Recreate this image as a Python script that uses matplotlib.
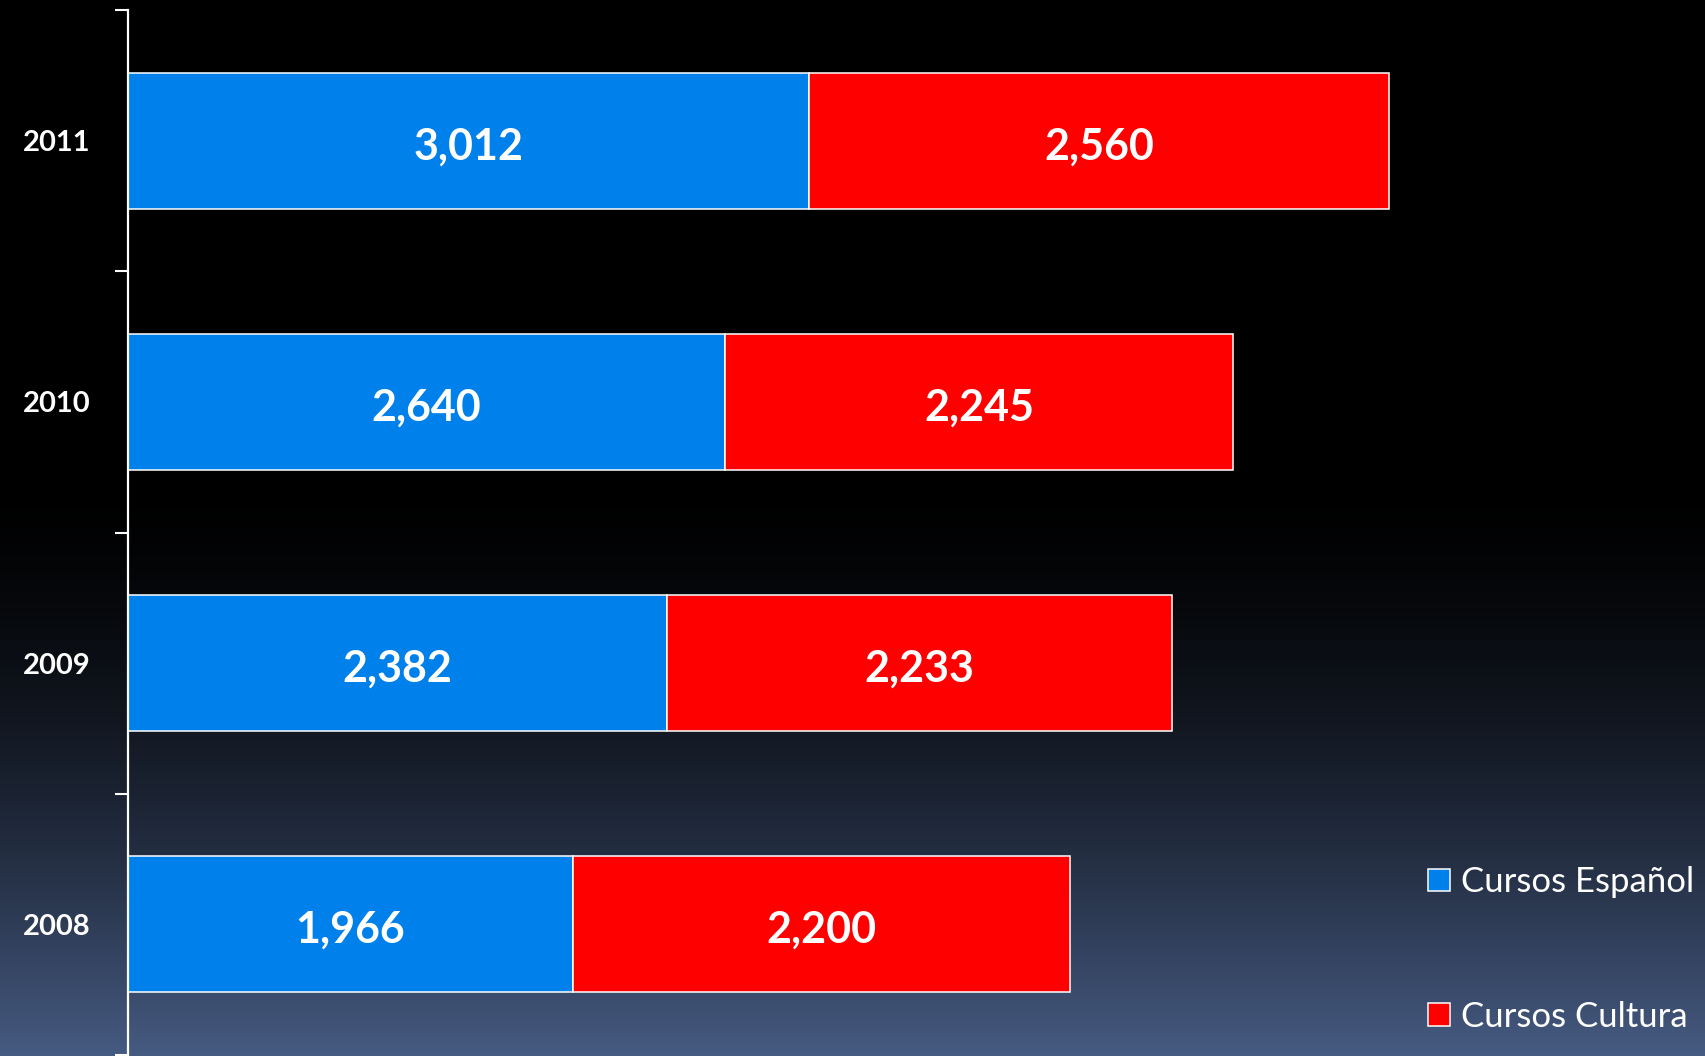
import numpy as np
import matplotlib
matplotlib.use("Agg")
import matplotlib.pyplot as plt

years = ["2008", "2009", "2010", "2011"]
espanol = [1966, 2382, 2640, 3012]
cultura = [2200, 2233, 2245, 2560]

blue = "#0080EA"
red = "#FF0000"

plt.rcParams['font.family'] = ['Lato', 'DejaVu Sans']

fig = plt.figure(figsize=(17.06, 10.56), dpi=100)

# background gradient: black at the top, slate blue at the bottom
bg = fig.add_axes([0, 0, 1, 1], zorder=0)
f = np.linspace(0, 1, 512)
t = np.clip((f - 0.45) / 0.55, 0, 1) ** 1.6
bottom_col = np.array([0x46, 0x5B, 0x82]) / 255
grad = (t[:, None] * bottom_col[None, :])[:, None, :]
bg.imshow(grad, aspect="auto", extent=[0, 1, 0, 1], origin="upper")
bg.axis("off")

ax = fig.add_axes([128 / 1706, 1 / 1056, 1561 / 1706, 1045 / 1056], zorder=1)
ax.patch.set_alpha(0)

y = np.arange(len(years))
b1 = ax.barh(y, espanol, height=0.52, color=blue, edgecolor="white",
             linewidth=1.1, label="Cursos Español")
b2 = ax.barh(y, cultura, left=espanol, height=0.52, color=red,
             edgecolor="white", linewidth=1.1, label="Cursos Cultura")

for bars in (b1, b2):
    labs = ax.bar_label(bars, labels=[f"{v:,}" for v in bars.datavalues],
                        label_type="center", color="white", fontsize=31,
                        fontweight="bold")
    for lab in labs:
        lab.set_y(-4)

ax.set_xlim(0, 6900)
ax.set_ylim(-0.5, 3.5)

for s in ("top", "right", "bottom"):
    ax.spines[s].set_visible(False)
ax.spines["left"].set_color("white")
ax.spines["left"].set_linewidth(1.6)
ax.set_xticks([])

ax.set_yticks(np.arange(-0.5, 4, 1))
ax.set_yticklabels([])
ax.tick_params(axis="y", which="major", length=9.5, width=1.5, color="white")
ax.set_yticks(y, minor=True)
ax.set_yticklabels(years, minor=True)
ax.tick_params(axis="y", which="minor", length=0, pad=27, labelsize=21,
               labelcolor="white")
for lab in ax.get_yticklabels(minor=True):
    lab.set_fontweight("bold")

leg = fig.legend(handles=[b1, b2], loc="center left",
                 bbox_to_anchor=(1428 / 1706, 0.101), frameon=False,
                 fontsize=25, labelcolor="white", handlelength=0.62,
                 handleheight=0.62, handletextpad=0.33, labelspacing=2.95,
                 borderpad=0, borderaxespad=0)

fig.savefig("out.png", dpi=100)
